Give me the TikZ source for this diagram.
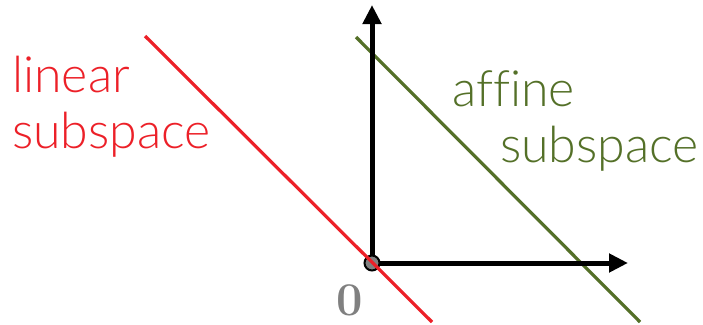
\documentclass[tikz,border=0pt]{standalone}
\usepackage{fontspec}
\newfontfamily\labelfont[Ligatures=NoCommon, UprightFont=* Light]{Lato}
\usetikzlibrary{arrows.meta}
\definecolor{linred}{RGB}{236,32,40}
\definecolor{affgreen}{RGB}{84,112,40}
\definecolor{origray}{RGB}{128,128,128}
\tikzset{
  axis/.style={line width=5pt, -{Triangle[length=19pt,width=18pt]}},
  subline/.style={line width=3.2pt},
  lbl/.style={font=\labelfont\fontsize{50}{56}\selectfont, inner sep=0pt, anchor=base west}
}
\begin{document}
\begin{tikzpicture}[x=1pt, y=-1pt]
  \useasboundingbox (0,0) rectangle (703,324);
  % axes and the two lines
  \coordinate (o) at (372,263);
  \coordinate (ytip) at (372,5);
  \coordinate (xtip) at (628,263);
  \coordinate (aff1) at (356,37);
  \coordinate (aff2) at (640,322);
  \coordinate (lin1) at (145,36);
  \coordinate (lin2) at (432,322);
  \draw[subline, affgreen] (aff1) -- (aff2);
  \draw[axis] (o) -- (ytip);
  \draw[axis] (o) -- (xtip);
  \node[circle, draw, line width=2pt, fill=origray, minimum size=15pt, inner sep=0pt] (orig) at (o) {};
  \draw[subline, linred] (lin1) -- (lin2);
  % labels
  \node[font=\fontsize{47}{50}\selectfont\bfseries, text=origray, inner sep=0pt] (zero) at (350,300) {0};
  \node[lbl, text=linred] (lin) at (12,92) {linear};
  \node[lbl, text=linred] (linsub) at (12,148) {subspace};
  \node[lbl, text=affgreen] (aff) at (452,106) {affine};
  \node[lbl, text=affgreen] (affsub) at (500,162) {subspace};
\end{tikzpicture}
\end{document}
